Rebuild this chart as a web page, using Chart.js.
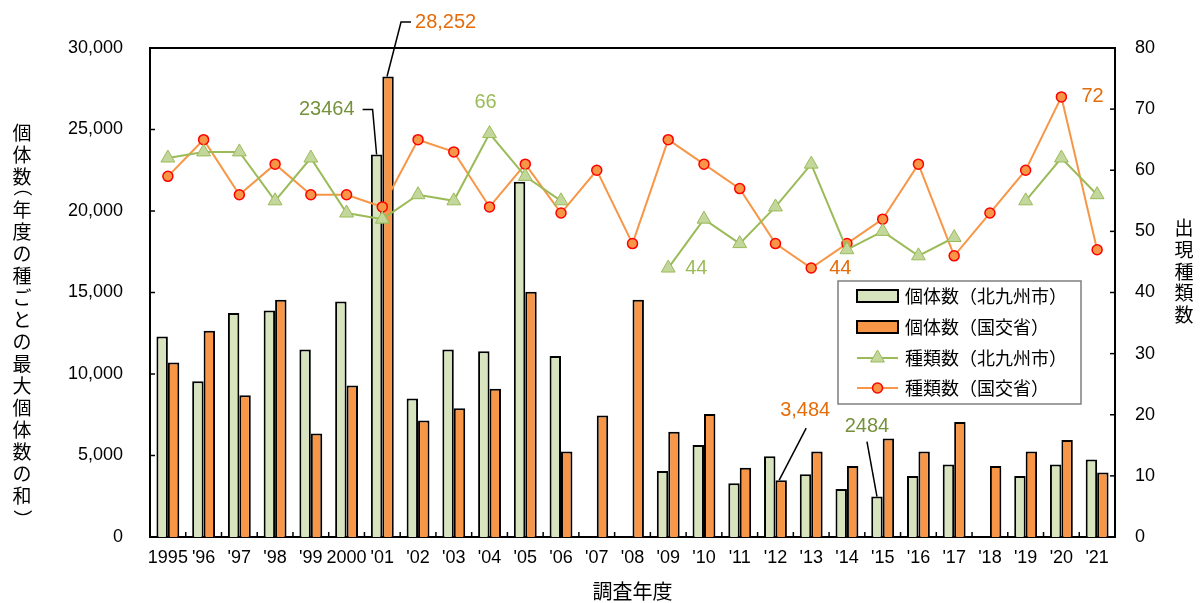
<!DOCTYPE html>
<html><head><meta charset="utf-8">
<script src="https://cdn.jsdelivr.net/npm/chart.js@4"></script>
<style>html,body{margin:0;padding:0;background:#fff}</style>
</head><body>
<canvas id="c" width="1200" height="603"></canvas>
<script>
const years = ['1995',"'96","'97","'98","'99",'2000',"'01","'02","'03","'04","'05","'06","'07","'08","'09","'10","'11","'12","'13","'14","'15","'16","'17","'18","'19","'20","'21"];
const countKita = [12300,9550,13750,13900,11500,14450,23464,8500,11500,11400,21800,11100,null,null,4050,5650,3300,4950,3850,2950,2484,3750,4450,null,3750,4450,4750];
const countMlit = [10700,12650,8700,14550,6350,9300,28252,7150,7900,9100,15050,5250,7450,14550,6450,7550,4250,3484,5250,4350,6050,5250,7050,4350,5250,5950,3950];
const speciesKita = [62,63,63,55,62,53,52,56,55,66,59,55,null,null,44,52,48,54,61,47,50,46,49,null,55,62,56];
const speciesMlit = [59,65,56,61,56,56,54,65,63,54,61,53,60,48,65,61,57,48,44,48,52,61,46,53,60,72,47];
const seriesNames = ['個体数（北九州市）','個体数（国交省）','種類数（北九州市）','種類数（国交省）'];
const leftTitle = '個体数（年度の種ごとの最大個体数の和）';
const rightTitle = '出現種類数';
const xTitle = '調査年度';
const countAxis = {min:0, max:30000, step:5000};
const speciesAxis = {min:0, max:80, step:10};

const NUM = '"Liberation Sans", Arial, sans-serif';
const JP = '"Noto Sans CJK JP", sans-serif';
const C = {gBar:'#D7E4BD', oBar:'#F79646', gLine:'#9BBB59', gMark:'#C3D69B', oLine:'#F79646', oMark:'#F79646', red:'#FF0000',
  oText:'#E46C0A', gDark:'#76923C', gText:'#9BBB59'};
const fmt = v => v.toLocaleString('en-US');

function drawVertical(ctx, text, cx, firstCy, step, pStep){
  const chars = Array.from(text);
  let cy = firstCy, prevAdv = null;
  chars.forEach(ch=>{
    const isP = ch==='（'||ch==='）';
    const adv = isP ? pStep : step;
    if(prevAdv!==null) cy += (prevAdv+adv)/2;
    prevAdv = adv;
    if(isP){
      ctx.save();
      ctx.translate(cx, cy);
      ctx.rotate(Math.PI/2);
      ctx.textAlign='left'; ctx.textBaseline='alphabetic';
      const m = ctx.measureText(ch);
      const x0 = (m.actualBoundingBoxLeft - m.actualBoundingBoxRight)/2;
      const y0 = (m.actualBoundingBoxAscent - m.actualBoundingBoxDescent)/2;
      ctx.fillText(ch, x0, y0);
      ctx.restore();
    } else {
      ctx.textAlign='center'; ctx.textBaseline='middle';
      ctx.fillText(ch, cx, cy);
    }
  });
}

function poly(ctx, pts){
  ctx.beginPath(); ctx.moveTo(pts[0][0], pts[0][1]);
  for(let i=1;i<pts.length;i++) ctx.lineTo(pts[i][0], pts[i][1]);
  ctx.stroke();
}
function label(ctx, t, x, y, align, color){
  ctx.fillStyle=color; ctx.textAlign=align; ctx.textBaseline='middle'; ctx.fillText(t, x, y);
}

const custom = {
  id:'custom',
  beforeDatasetsDraw(chart){
    const {ctx, chartArea:a, scales} = chart;
    ctx.save();
    ctx.strokeStyle='#000'; ctx.lineWidth=1.5;
    scales.y.ticks.forEach((t,i)=>{const y=scales.y.getPixelForTick(i); poly(ctx,[[a.left,y],[a.left+5,y]]);});
    scales.y1.ticks.forEach((t,i)=>{const y=scales.y1.getPixelForTick(i); poly(ctx,[[a.right-5,y],[a.right,y]]);});
    const half = (scales.x.getPixelForValue(1)-scales.x.getPixelForValue(0))/2;
    for(let i=1;i<years.length;i++){const x=scales.x.getPixelForValue(i)-half; poly(ctx,[[x,a.bottom],[x,a.bottom-5]]);}
    ctx.lineWidth=2;
    ctx.strokeRect(a.left, a.top, a.right-a.left, a.bottom-a.top);
    ctx.restore();
  },
  afterDatasetsDraw(chart){
    const {ctx, chartArea:a} = chart;
    const mB1=chart.getDatasetMeta(0), mB2=chart.getDatasetMeta(1), mL1=chart.getDatasetMeta(2), mL2=chart.getDatasetMeta(3);
    ctx.save();
    ctx.font='20px '+NUM;
    ctx.strokeStyle='#000'; ctx.lineWidth=1.5;
    let i = countMlit.indexOf(Math.max(...countMlit));
    let e = mB2.data[i];
    poly(ctx,[[e.x-1,e.y],[e.x+13,a.top-26],[e.x+23,a.top-26]]);
    label(ctx, fmt(countMlit[i]), e.x+27, a.top-26, 'left', C.oText);
    i = countKita.indexOf(Math.max(...countKita.filter(v=>v!==null)));
    e = mB1.data[i];
    poly(ctx,[[e.x,e.y],[e.x-4,e.y-45],[e.x-14,e.y-45]]);
    label(ctx, String(countKita[i]), e.x-22, e.y-45, 'right', C.gDark);
    i = countMlit.indexOf(Math.min(...countMlit));
    e = mB2.data[i];
    poly(ctx,[[e.x-2,e.y],[e.x+25,e.y-52]]);
    label(ctx, fmt(countMlit[i]), e.x+24, e.y-70, 'center', C.oText);
    i = countKita.indexOf(Math.min(...countKita.filter(v=>v!==null)));
    e = mB1.data[i];
    poly(ctx,[[e.x,e.y],[e.x-10,e.y-55]]);
    label(ctx, String(countKita[i]), e.x-10, e.y-70, 'center', C.gDark);
    const kv = speciesKita.filter(v=>v!==null);
    i = speciesKita.indexOf(Math.max(...kv)); e = mL1.data[i];
    label(ctx, String(speciesKita[i]), e.x-4, e.y-31, 'center', C.gText);
    i = speciesKita.indexOf(Math.min(...kv)); e = mL1.data[i];
    label(ctx, String(speciesKita[i]), e.x+17, e.y, 'left', C.gText);
    i = speciesMlit.indexOf(Math.min(...speciesMlit)); e = mL2.data[i];
    label(ctx, String(speciesMlit[i]), e.x+18, e.y, 'left', C.oText);
    i = speciesMlit.indexOf(Math.max(...speciesMlit)); e = mL2.data[i];
    label(ctx, String(speciesMlit[i]), e.x+20, e.y, 'left', C.oText);
    ctx.restore();
  },
  afterDraw(chart){
    const {ctx} = chart;
    ctx.save();
    ctx.fillStyle='#000';
    ctx.font='19px '+JP;
    drawVertical(ctx, leftTitle, 22, 133, 22, 11);
    drawVertical(ctx, rightTitle, 1184, 228, 21.75, 11);
    const lx=838, ly=281, lw=243, lh=123;
    ctx.fillStyle='#fff'; ctx.fillRect(lx,ly,lw,lh);
    ctx.strokeStyle='#7f7f7f'; ctx.lineWidth=1.5; ctx.strokeRect(lx,ly,lw,lh);
    const rows=[296,327,358,388];
    const ds = chart.data.datasets;
    ds.forEach((d,k)=>{
      const y=rows[k];
      if(d.type==='bar'){
        ctx.fillStyle=d.backgroundColor; ctx.fillRect(857,y-6,41,12);
        ctx.strokeStyle='#000'; ctx.lineWidth=2; ctx.strokeRect(857,y-6,41,12);
      } else {
        ctx.strokeStyle=d.borderColor; ctx.lineWidth=2; poly(ctx,[[857,y],[898,y]]);
        ctx.fillStyle=d.pointBackgroundColor; ctx.strokeStyle=d.pointBorderColor; ctx.lineWidth=d.pointBorderWidth;
        Chart.helpers.drawPoint(ctx,{pointStyle:d.pointStyle, radius:d.pointRadius, borderWidth:d.pointBorderWidth, rotation:0}, 877.5, y);
      }
      ctx.fillStyle='#000'; ctx.font='18px '+JP; ctx.textAlign='left'; ctx.textBaseline='middle';
      ctx.fillText(d.label, 905, y);
    });
    ctx.restore();
  }
};

new Chart(document.getElementById('c'), {
  data:{
    labels: years,
    datasets:[
      {type:'bar', label:seriesNames[0], data:countKita, backgroundColor:C.gBar, borderColor:'#000', borderWidth:2, yAxisID:'y', order:1, categoryPercentage:0.64, barPercentage:1},
      {type:'bar', label:seriesNames[1], data:countMlit, backgroundColor:C.oBar, borderColor:'#000', borderWidth:2, yAxisID:'y', order:1, categoryPercentage:0.64, barPercentage:1},
      {type:'line', label:seriesNames[2], data:speciesKita, borderColor:C.gLine, borderWidth:2, pointStyle:'triangle', pointRadius:8, pointBackgroundColor:C.gMark, pointBorderColor:C.gLine, pointBorderWidth:1, yAxisID:'y1', order:0, tension:0, spanGaps:false},
      {type:'line', label:seriesNames[3], data:speciesMlit, borderColor:C.oLine, borderWidth:2, pointStyle:'circle', pointRadius:5, pointBackgroundColor:C.oMark, pointBorderColor:C.red, pointBorderWidth:1.5, yAxisID:'y1', order:0, tension:0}
    ]
  },
  options:{
    responsive:false, animation:false,
    layout:{padding:{top:48,left:0,right:0,bottom:0}},
    plugins:{legend:{display:false}, tooltip:{enabled:false}},
    scales:{
      x:{type:'category', offset:true, grid:{display:false, drawTicks:false}, border:{display:false},
         ticks:{font:{family:NUM,size:18}, color:'#000', padding:10, maxRotation:0, autoSkip:false},
         title:{display:true, text:xTitle, font:{family:JP,size:20}, color:'#000', padding:{top:0,bottom:0}},
         afterFit:s=>{s.height=66;}},
      y:{position:'left', min:countAxis.min, max:countAxis.max, grid:{display:false, drawTicks:false}, border:{display:false},
         ticks:{stepSize:countAxis.step, font:{family:NUM,size:18}, color:'#000', padding:27, callback:v=>fmt(v)},
         afterFit:s=>{s.width=150;}},
      y1:{position:'right', min:speciesAxis.min, max:speciesAxis.max, grid:{display:false, drawTicks:false}, border:{display:false},
         ticks:{stepSize:speciesAxis.step, font:{family:NUM,size:18}, color:'#000', padding:20},
         afterFit:s=>{s.width=85;}}
    }
  },
  plugins:[custom]
});
</script>
</body></html>
